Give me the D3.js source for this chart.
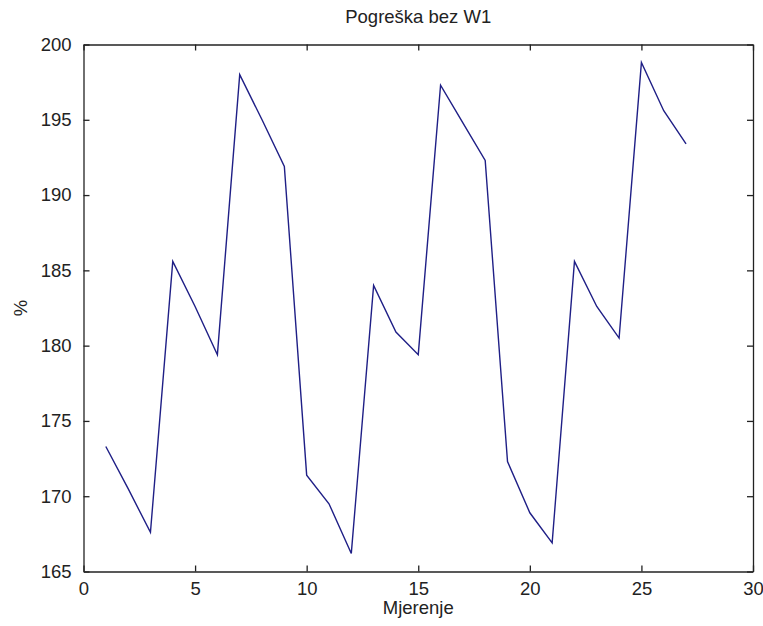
<!DOCTYPE html>
<html>
<head>
<meta charset="utf-8">
<script src="https://cdn.jsdelivr.net/npm/d3@7"></script>
<style>
  html, body { margin: 0; padding: 0; background: #fff; }
  svg { display: block; }
  text { font-family: "Liberation Sans", Arial, sans-serif; fill: #222; }
</style>
</head>
<body>
<div id="chart"></div>
<script>
const title = "Pogreška bez W1";
const xLabel = "Mjerenje";
const yLabel = "%";
const measurements = d3.range(1, 28);
const errorValues = [
  173.3, 170.5, 167.6, 185.6, 182.6, 179.4, 198.0, 195.0, 191.9,
  171.4, 169.5, 166.2, 184.0, 180.9, 179.4, 197.3, 194.8, 192.3,
  172.3, 168.9, 166.9, 185.6, 182.6, 180.5, 198.8, 195.6, 193.4
];
const xTicks = [0, 5, 10, 15, 20, 25, 30];
const yTicks = [165, 170, 175, 180, 185, 190, 195, 200];

const W = 763, H = 626;
const m = { left: 83.5, right: 763 - 753, top: 44.5, bottom: 626 - 571.5 };

const svg = d3.select("#chart").append("svg").attr("width", W).attr("height", H);

const x = d3.scaleLinear().domain([0, 30]).range([m.left, W - m.right]);
const y = d3.scaleLinear().domain([165, 200]).range([H - m.bottom, m.top]);

const tickLen = 6;
const fs = 18.5;

const gB = svg.append("g").attr("transform", `translate(0,${H - m.bottom})`)
  .call(d3.axisBottom(x).tickValues(xTicks).tickSizeInner(-tickLen).tickSizeOuter(0).tickPadding(tickLen + 4));
const gT = svg.append("g").attr("transform", `translate(0,${m.top})`)
  .call(d3.axisTop(x).tickValues(xTicks).tickSizeInner(-tickLen).tickSizeOuter(0).tickFormat(""));
const gL = svg.append("g").attr("transform", `translate(${m.left},0)`)
  .call(d3.axisLeft(y).tickValues(yTicks).tickSizeInner(-tickLen).tickSizeOuter(0).tickPadding(tickLen + 6));
const gR = svg.append("g").attr("transform", `translate(${W - m.right},0)`)
  .call(d3.axisRight(y).tickValues(yTicks).tickSizeInner(-tickLen).tickSizeOuter(0).tickFormat(""));

[gB, gT, gL, gR].forEach(g => {
  g.select(".domain").attr("stroke", "#222").attr("stroke-width", 1.3);
  g.selectAll(".tick line").attr("stroke", "#222").attr("stroke-width", 1.3);
  g.selectAll(".tick text").attr("font-size", fs).attr("font-family", "Liberation Sans, Arial, sans-serif").attr("fill", "#222");
});

const line = d3.line().x((d, i) => x(measurements[i])).y(d => y(d));
svg.append("path")
  .datum(errorValues)
  .attr("d", line)
  .attr("fill", "none")
  .attr("stroke", "#1f1f86")
  .attr("stroke-width", 1.4)
  .attr("stroke-linejoin", "miter");

svg.append("text")
  .attr("x", (m.left + W - m.right) / 2)
  .attr("y", 23)
  .attr("text-anchor", "middle")
  .attr("font-size", fs)
  .text(title);

svg.append("text")
  .attr("x", (m.left + W - m.right) / 2)
  .attr("y", 614)
  .attr("text-anchor", "middle")
  .attr("font-size", fs)
  .text(xLabel);

svg.append("text")
  .attr("transform", `translate(27,${(m.top + H - m.bottom) / 2}) rotate(-90)`)
  .attr("text-anchor", "middle")
  .attr("font-size", fs)
  .text(yLabel);
</script>
</body>
</html>
